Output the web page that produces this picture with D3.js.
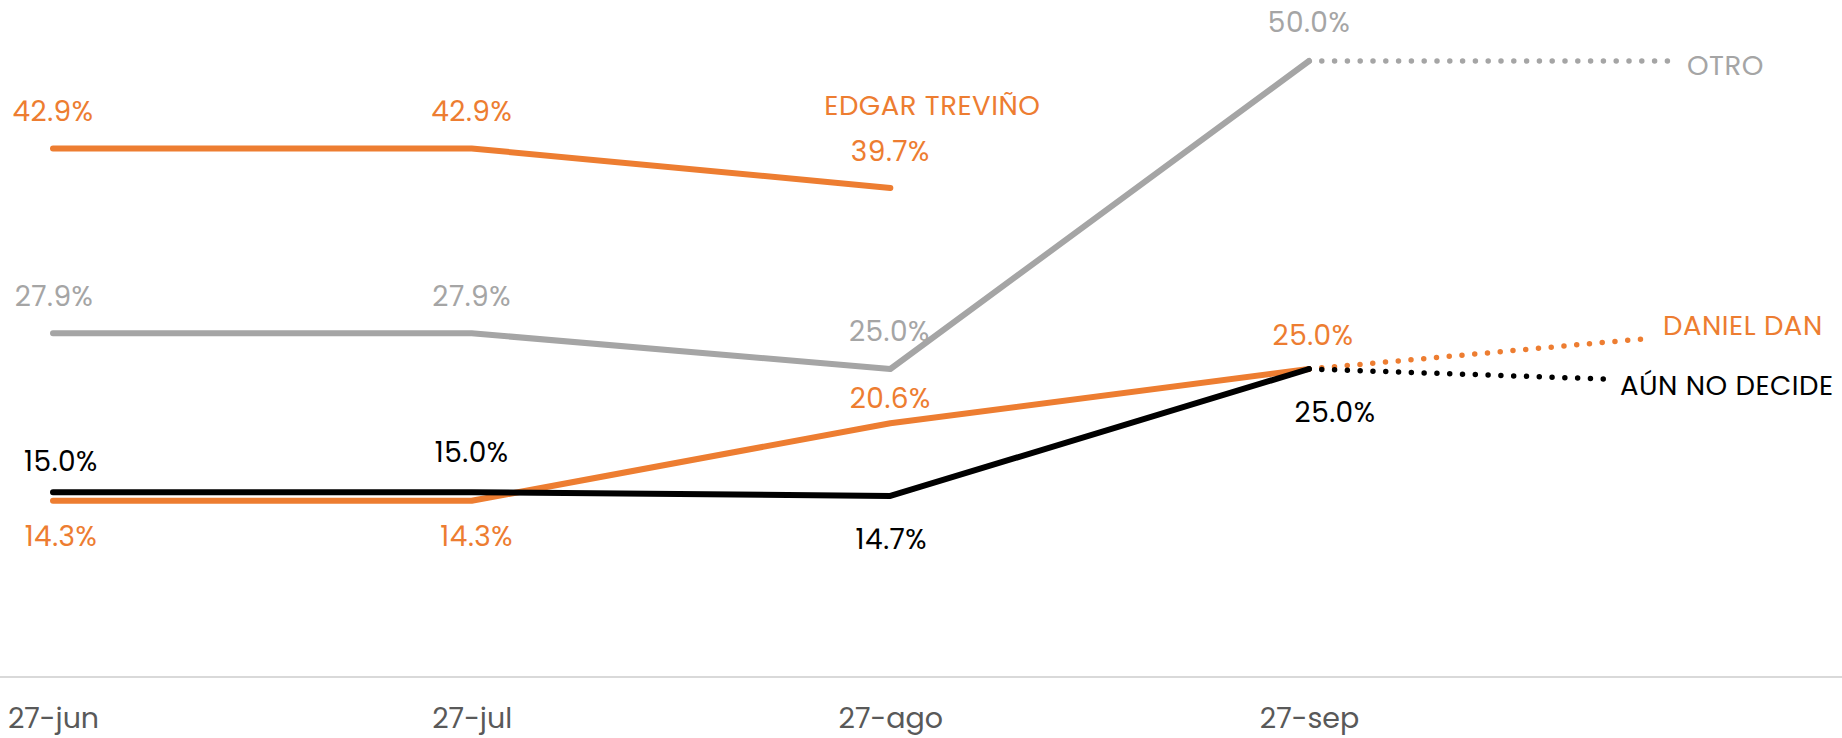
<!DOCTYPE html>
<html lang="es">
<head>
<meta charset="utf-8">
<title>Preferencia por candidato</title>
<script src="https://cdn.jsdelivr.net/npm/d3@7"></script>
<style>
  html, body { margin: 0; padding: 0; background: #ffffff; }
  svg { display: block; }
  text { font-family: Poppins, Inter, "Noto Sans", sans-serif; }
</style>
</head>
<body>
<div id="chart"></div>
<script>
// Survey rounds (x axis)
const dates = ["27-jun", "27-jul", "27-ago", "27-sep"];

// Share of preference per round, in percent (null = not measured)
const edgarTrevino = [42.9, 42.9, 39.7, null];
const otro = [27.9, 27.9, 25.0, 50.0];
const danielDan = [14.3, 14.3, 20.6, 25.0];
const aunNoDecide = [15.0, 15.0, 14.7, 25.0];

const seriesNames = ["EDGAR TREVIÑO", "OTRO", "DANIEL DAN", "AÚN NO DECIDE"];

// Drawing setup -------------------------------------------------------
const W = 1842, H = 738;
const ORANGE = "#ED7D31", GRAY = "#A5A5A5", BLACK = "#000000";

const series = [
  { key: "edgar", name: seriesNames[0], values: edgarTrevino, color: ORANGE },
  { key: "otro",  name: seriesNames[1], values: otro,         color: GRAY },
  { key: "daniel",name: seriesNames[2], values: danielDan,    color: ORANGE },
  { key: "aun",   name: seriesNames[3], values: aunNoDecide,  color: BLACK }
];

// Where each value label sits relative to its point: [dx, baseline dy]
const valueLabelOffsets = {
  edgar:  [[0, -27], [0, -27], [0, -27]],
  otro:   [[1, -27], [0, -27], [-1, -28], [0, -29]],
  daniel: [[8, 45], [5, 45], [0, -15], [4, -24]],
  aun:    [[8, -21], [0, -30], [1, 53], [26, 53]]
};

// Series name placement: optional dotted leader from the last point,
// then the text position relative to the leader end.
const nameLayout = {
  edgar:  { leader: null,        text: [42, -73], anchor: "middle" },
  otro:   { leader: [359, 0],    text: [19, 14],  anchor: "start" },
  daniel: { leader: [344, -31],  text: [10, -3],  anchor: "start" },
  aun:    { leader: [296, 10],   text: [15, 16],  anchor: "start" }
};

const svg = d3.select("#chart").append("svg")
  .attr("width", W).attr("height", H);

const x = d3.scalePoint().domain(dates).range([53, 1309]);
const y = d3.scaleLinear().domain([0, 50]).range([677, 61]);

// Baseline across the full width
svg.append("line")
  .attr("x1", 0).attr("x2", W)
  .attr("y1", y(0)).attr("y2", y(0))
  .attr("stroke", "#D9D9D9").attr("stroke-width", 2);

// Category labels
const xAxis = svg.append("g")
  .attr("transform", `translate(0,${y(0)})`)
  .call(d3.axisBottom(x).tickSize(0).tickPadding(31));
xAxis.select(".domain").remove();
xAxis.selectAll("text")
  .attr("fill", "#595959")
  .style("font-size", "28.5px")
  .style("font-family", "Poppins, Inter, 'Noto Sans', sans-serif");

const line = d3.line()
  .defined(d => d.v != null)
  .x(d => x(d.date))
  .y(d => y(d.v));

series.forEach(s => {
  const pts = s.values.map((v, i) => ({ date: dates[i], v }));
  const valid = pts.filter(p => p.v != null);
  const last = valid[valid.length - 1];
  const lx = x(last.date), ly = y(last.v);
  const lay = nameLayout[s.key];

  const g = svg.append("g").attr("class", "series-" + s.key);

  // Dotted leader to the series name
  let ex = lx, ey = ly;
  if (lay.leader) {
    ex = lx + lay.leader[0];
    ey = ly + lay.leader[1];
    g.append("line")
      .attr("x1", lx).attr("y1", ly)
      .attr("x2", ex).attr("y2", ey)
      .attr("stroke", s.color)
      .attr("stroke-width", 5.5)
      .attr("stroke-linecap", "round")
      .attr("stroke-dasharray", "0 12.8");
  }

  // Solid trend line
  g.append("path")
    .datum(pts)
    .attr("d", line)
    .attr("fill", "none")
    .attr("stroke", s.color)
    .attr("stroke-width", 6)
    .attr("stroke-linecap", "round")
    .attr("stroke-linejoin", "round");

  // Value labels
  const offs = valueLabelOffsets[s.key];
  g.selectAll("text.value")
    .data(valid)
    .join("text")
    .attr("class", "value")
    .attr("x", (d, i) => x(d.date) + offs[i][0])
    .attr("y", (d, i) => y(d.v) + offs[i][1])
    .attr("text-anchor", "middle")
    .attr("fill", s.color)
    .style("font-size", "28px")
    .style("letter-spacing", "0.5px")
    .text(d => d.v.toFixed(1) + "%");

  // Series name
  g.append("text")
    .attr("class", "name")
    .attr("x", ex + lay.text[0])
    .attr("y", ey + lay.text[1])
    .attr("text-anchor", lay.anchor)
    .attr("fill", s.color)
    .style("font-size", "27.5px")
    .style("letter-spacing", "0.5px")
    .text(s.name);
});
</script>
</body>
</html>
